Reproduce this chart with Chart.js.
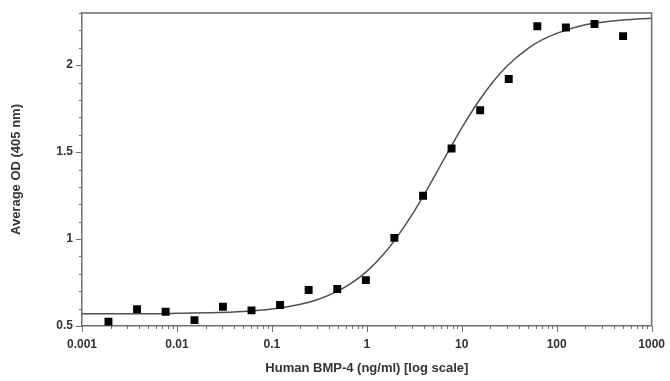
<!DOCTYPE html>
<html>
<head>
<meta charset="utf-8">
<script src="https://cdn.jsdelivr.net/npm/chart.js@4.4.1/dist/chart.umd.min.js"></script>
<style>
  body { margin: 0; background: #fff; }
  canvas { display: block; }
</style>
</head>
<body>
<canvas class="js-chart" width="670" height="381"></canvas>
<script>
// measured points (2-fold dilution series)
const concentrations = [0.0019, 0.0038, 0.0076, 0.0153, 0.0305, 0.061, 0.122, 0.244, 0.488, 0.977,
  1.95, 3.91, 7.81, 15.63, 31.25, 62.5, 125, 250, 500];
const averageOD = [0.525, 0.596, 0.582, 0.534, 0.611, 0.590, 0.621, 0.707, 0.713, 0.764,
  1.007, 1.249, 1.521, 1.741, 1.920, 2.224, 2.217, 2.237, 2.167];

// fitted curve
const curveX = [0.001, 0.002, 0.005, 0.01, 0.02, 0.05, 0.1, 0.2, 0.3, 0.5, 0.7, 1, 1.5, 2, 3, 4, 5, 7,
  10, 15, 20, 30, 50, 70, 100, 200, 300, 500, 1000];
const curveY = [0.570, 0.571, 0.571, 0.573, 0.576, 0.584, 0.598, 0.625, 0.651, 0.702, 0.749, 0.814,
  0.912, 0.998, 1.140, 1.254, 1.347, 1.491, 1.639, 1.791, 1.885, 1.995, 2.097, 2.145, 2.183, 2.232,
  2.247, 2.260, 2.270];

// axis ticks
const xTickValues = [0.001, 0.002, 0.003, 0.004, 0.005, 0.006, 0.007, 0.008, 0.009,
  0.01, 0.02, 0.03, 0.04, 0.05, 0.06, 0.07, 0.08, 0.09,
  0.1, 0.2, 0.3, 0.4, 0.5, 0.6, 0.7, 0.8, 0.9,
  1, 2, 3, 4, 5, 6, 7, 8, 9,
  10, 20, 30, 40, 50, 60, 70, 80, 90,
  100, 200, 300, 400, 500, 600, 700, 800, 900, 1000];
const xTickLabels = ['0.001', '0.01', '0.1', '1', '10', '100', '1000'];
const yTickValues = [0.5, 0.6, 0.7, 0.8, 0.9, 1.0, 1.1, 1.2, 1.3, 1.4, 1.5, 1.6, 1.7, 1.8, 1.9, 2.0, 2.1, 2.2, 2.3];
const yTickLabels = ['0.5', '1', '1.5', '2'];

const axisColor = '#6e6e6e';
const textColor = '#333';
const fontFamily = "'Liberation Sans', Arial, sans-serif";

const isXMajor = function(v) {
  return xTickLabels.includes(String(v));
};
const isYMajor = function(v) {
  return yTickLabels.includes(String(Math.round(v * 10) / 10));
};

// frame on top/right and the tick marks (long for labelled ticks, short otherwise)
const frameAndTicks = {
  id: 'frameAndTicks',
  afterDraw(chart) {
    const ctx = chart.ctx;
    const area = chart.chartArea;
    ctx.save();
    ctx.strokeStyle = axisColor;
    ctx.lineWidth = 1.5;
    ctx.beginPath();
    ctx.moveTo(area.left, area.top);
    ctx.lineTo(area.right, area.top);
    ctx.lineTo(area.right, area.bottom);
    ctx.stroke();

    ctx.lineWidth = 1;
    const xs = chart.scales.x;
    for (const t of xs.ticks) {
      const px = Math.round(xs.getPixelForValue(t.value)) + 0.5;
      const len = isXMajor(t.value) ? 6 : 3;
      ctx.beginPath();
      ctx.moveTo(px, area.bottom);
      ctx.lineTo(px, area.bottom + len);
      ctx.stroke();
    }
    const ys = chart.scales.y;
    for (const t of ys.ticks) {
      const py = Math.round(ys.getPixelForValue(t.value)) + 0.5;
      const len = isYMajor(t.value) ? 6 : 3;
      ctx.beginPath();
      ctx.moveTo(area.left, py);
      ctx.lineTo(area.left - len, py);
      ctx.stroke();
    }
    ctx.restore();
  }
};

const points = concentrations.map((c, i) => ({ x: c, y: averageOD[i] }));
const curve = curveX.map((c, i) => ({ x: c, y: curveY[i] }));

const ctx = document.querySelector('.js-chart').getContext('2d');
const chart = new Chart(ctx, {
  type: 'scatter',
  data: {
    datasets: [{
      type: 'line',
      label: 'fit',
      data: curve,
      borderColor: '#505050',
      borderWidth: 1.5,
      pointRadius: 0,
      cubicInterpolationMode: 'monotone',
      fill: false,
      order: 2
    }, {
      type: 'scatter',
      label: 'Average OD',
      data: points,
      pointStyle: 'rect',
      pointRadius: 5.6,
      pointBorderWidth: 0,
      backgroundColor: '#000',
      borderColor: '#000',
      order: 1
    }]
  },
  options: {
    responsive: false,
    animation: false,
    layout: { padding: { left: 0, top: 13, right: 18, bottom: 0 } },
    plugins: { legend: { display: false }, tooltip: { enabled: false } },
    scales: {
      x: {
        type: 'logarithmic',
        min: 0.001,
        max: 1000,
        afterBuildTicks: function(scale) {
          scale.ticks = xTickValues.map(v => ({ value: v }));
        },
        afterFit: function(scale) { scale.height = 55; },
        border: { display: true, color: axisColor, width: 1.5 },
        grid: { display: true, drawOnChartArea: false, drawTicks: true, tickLength: 6, color: 'rgba(0,0,0,0)' },
        ticks: {
          autoSkip: false,
          maxRotation: 0,
          padding: 5,
          color: textColor,
          font: { family: fontFamily, size: 12, weight: 'bold' },
          callback: function(value) {
            return isXMajor(value) ? String(value) : '';
          }
        },
        title: {
          display: true,
          text: 'Human BMP-4 (ng/ml) [log scale]',
          color: textColor,
          font: { family: fontFamily, size: 13, weight: 'bold' },
          padding: { top: 0, bottom: 5 }
        }
      },
      y: {
        min: 0.5,
        max: 2.3,
        afterBuildTicks: function(scale) {
          scale.ticks = yTickValues.map(v => ({ value: v }));
        },
        afterFit: function(scale) { scale.width = 82; },
        border: { display: true, color: axisColor, width: 1.5 },
        grid: { display: true, drawOnChartArea: false, drawTicks: true, tickLength: 6, color: 'rgba(0,0,0,0)' },
        ticks: {
          autoSkip: false,
          padding: 3,
          color: textColor,
          font: { family: fontFamily, size: 12, weight: 'bold' },
          callback: function(value) {
            return isYMajor(value) ? String(Math.round(value * 10) / 10) : '';
          }
        },
        title: {
          display: true,
          text: 'Average OD (405 nm)',
          color: textColor,
          font: { family: fontFamily, size: 13, weight: 'bold' },
          padding: { top: 9, bottom: 0 }
        }
      }
    }
  },
  plugins: [frameAndTicks]
});
</script>
</body>
</html>
